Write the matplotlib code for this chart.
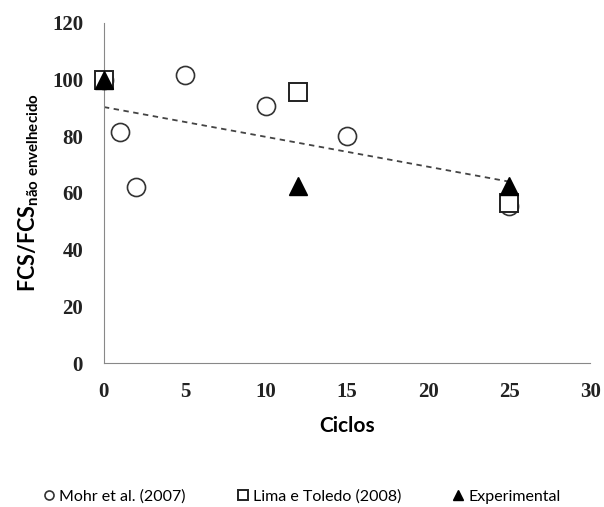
import numpy as np
import matplotlib.pyplot as plt

# dados
mohr_x = [0, 1, 2, 5, 10, 15, 25]
mohr_y = [100, 81.5, 62, 101.5, 90.5, 80, 55.5]
lima_x = [0, 12, 25]
lima_y = [100, 95.5, 56.5]
exp_x = [0, 12, 25]
exp_y = [100, 62.5, 62.5]

fig = plt.figure(figsize=(6.04, 5.07), dpi=100)
ax = fig.add_axes([0.172, 0.284, 0.805, 0.671])

ax.plot(mohr_x, mohr_y, 'o', ms=13, mfc='white', mec='#333333', mew=1.2,
        label='Mohr et al. (2007)', zorder=3, clip_on=False)
ax.plot(lima_x, lima_y, 's', ms=13, mfc='white', mec='#222222', mew=1.4,
        label='Lima e Toledo (2008)', zorder=4, clip_on=False)
ax.plot(exp_x, exp_y, '^', ms=13, color='black', label='Experimental',
        zorder=5, clip_on=False)

# linha de tendência (Mohr)
a, b = np.polyfit(mohr_x, mohr_y, 1)
xs = np.array([min(mohr_x), max(mohr_x)])
ax.plot(xs, a * xs + b, '--', color='#444444', lw=1.3, dashes=(3, 2.5), zorder=2)

ax.set_xlim(0, 30)
ax.set_ylim(0, 120)
ax.set_xticks(range(0, 31, 5))
ax.set_yticks(range(0, 121, 20))
for s in ['top', 'right']:
    ax.spines[s].set_visible(False)
for s in ['left', 'bottom']:
    ax.spines[s].set_color('#888888')
ax.tick_params(axis='y', length=0, pad=15)
ax.tick_params(axis='x', length=0, pad=14)
for lab in ax.get_xticklabels() + ax.get_yticklabels():
    lab.set_family('Liberation Serif')
    lab.set_fontweight('bold')
    lab.set_fontsize(15)
    lab.set_color('#222222')

ax.set_xlabel('Ciclos', family='Lato', fontweight='bold', fontsize=15, labelpad=10)
ax.set_ylabel(r'FCS/FCS$_{\mathregular{não\ envelhecido}}$', family='Lato',
              fontweight='bold', fontsize=15.5, labelpad=8)

fig.legend(loc='center', bbox_to_anchor=(0.5, 0.02), ncol=3, frameon=False,
           prop={'family': 'Lato', 'size': 11.5}, markerscale=0.5,
           handlelength=0.7, handletextpad=0.3, columnspacing=3.2)

fig.savefig('out.png', dpi=100)
